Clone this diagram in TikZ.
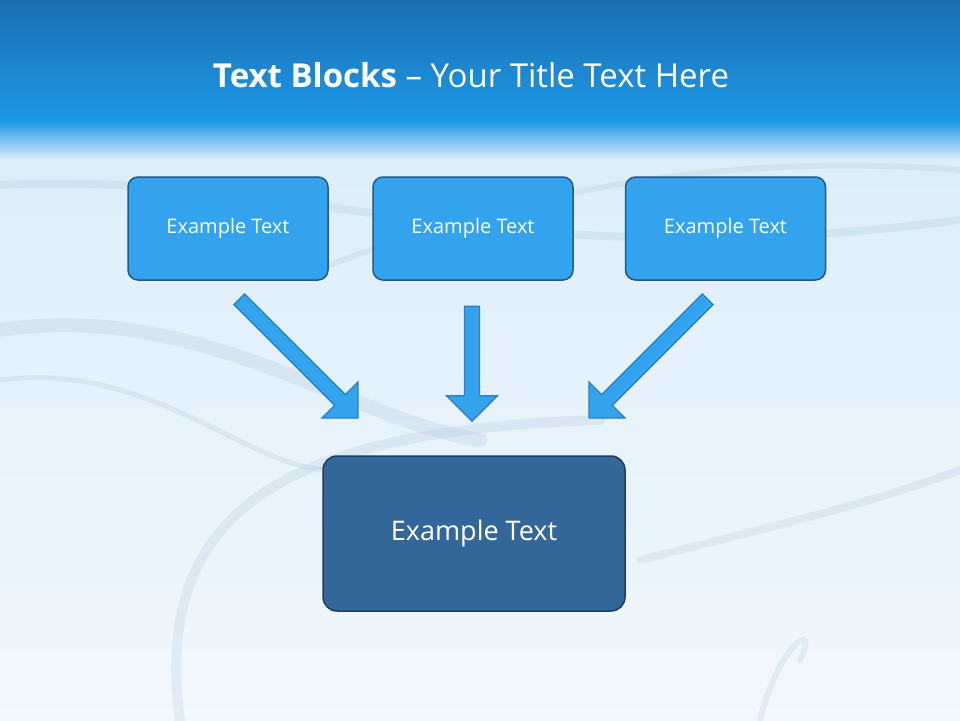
\documentclass[tikz,border=0pt]{standalone}
\usepackage{fontspec}
\setmainfont{Open Sans}
\usetikzlibrary{shapes.arrows}
\definecolor{boxblue}{HTML}{33A3EE}
\definecolor{boxedge}{HTML}{1D5C8C}
\definecolor{darkbox}{HTML}{336699}
\definecolor{darkedge}{HTML}{1F3D5C}
\definecolor{arrowedge}{HTML}{2A7FC0}
\definecolor{bgtop}{HTML}{DCEDF9}
\definecolor{bgbot}{HTML}{F2F8FD}
\definecolor{swirl}{HTML}{A9BED3}
\definecolor{titletop}{HTML}{1B6FB0}
\definecolor{titlebot}{HTML}{1E98E8}
\tikzset{
  smallbox/.style={draw=boxedge,line width=1.5pt,fill=boxblue,rounded corners=10pt,
    minimum width=200pt,minimum height=103pt,text=white,font=\fontsize{20}{24}\selectfont},
  bigbox/.style={draw=darkedge,line width=1.5pt,fill=darkbox,rounded corners=14pt,
    minimum width=302pt,minimum height=155pt,text=white,font=\fontsize{27}{32}\selectfont},
  blockarrow/.style={single arrow,draw=arrowedge,line width=1.2pt,fill=boxblue,
    inner sep=7pt,single arrow head extend=18pt,single arrow tip angle=90,anchor=center},
  swirlline/.style={swirl,opacity=0.22,line width=#1,line cap=round}
}
\begin{document}
\begin{tikzpicture}[x=1pt,y=-1pt]
\useasboundingbox (0,0) rectangle (960,720);
\shade[top color=bgtop,bottom color=bgbot] (0,120) rectangle (960,720);
% swirls
\draw[swirlline=14pt] (0,330) .. controls (200,300) and (350,420) .. (480,440);
\draw[swirlline=8pt] (0,185) .. controls (300,170) and (500,280) .. (960,220);
\draw[swirlline=6pt] (330,265) .. controls (500,200) and (700,150) .. (960,170);
\draw[swirlline=10pt] (180,720) .. controls (150,500) and (300,430) .. (600,420);
\draw[swirlline=8pt] (640,560) .. controls (800,520) and (880,500) .. (960,470);
\draw[swirlline=6pt] (760,720) .. controls (780,640) and (820,620) .. (800,660);
\draw[swirlline=5pt] (0,380) .. controls (150,360) and (250,470) .. (330,470);
% title bar
\shade[top color=titletop,bottom color=titlebot] (0,0) rectangle (960,122);
\shade[top color=titlebot,bottom color=bgtop] (0,121) rectangle (960,160);
\node[text=white,font=\fontsize{33}{38}\selectfont] (title) at (471,75) {\textbf{Text Blocks} – Your Title Text Here};
% boxes
\node[smallbox] (b1) at (228,228.5) {Example Text};
\node[smallbox] (b2) at (473,228.5) {Example Text};
\node[smallbox] (b3) at (725.5,228.5) {Example Text};
\node[bigbox] (b4) at (474,533.5) {Example Text};
% arrows
\node[blockarrow,minimum height=168pt,rotate=-45] (a1) at (296,356) {};
\node[blockarrow,minimum height=115pt,rotate=-90] (a2) at (472,360) {};
\node[blockarrow,minimum height=168pt,rotate=-135] (a3) at (651,356) {};
\end{tikzpicture}
\end{document}
